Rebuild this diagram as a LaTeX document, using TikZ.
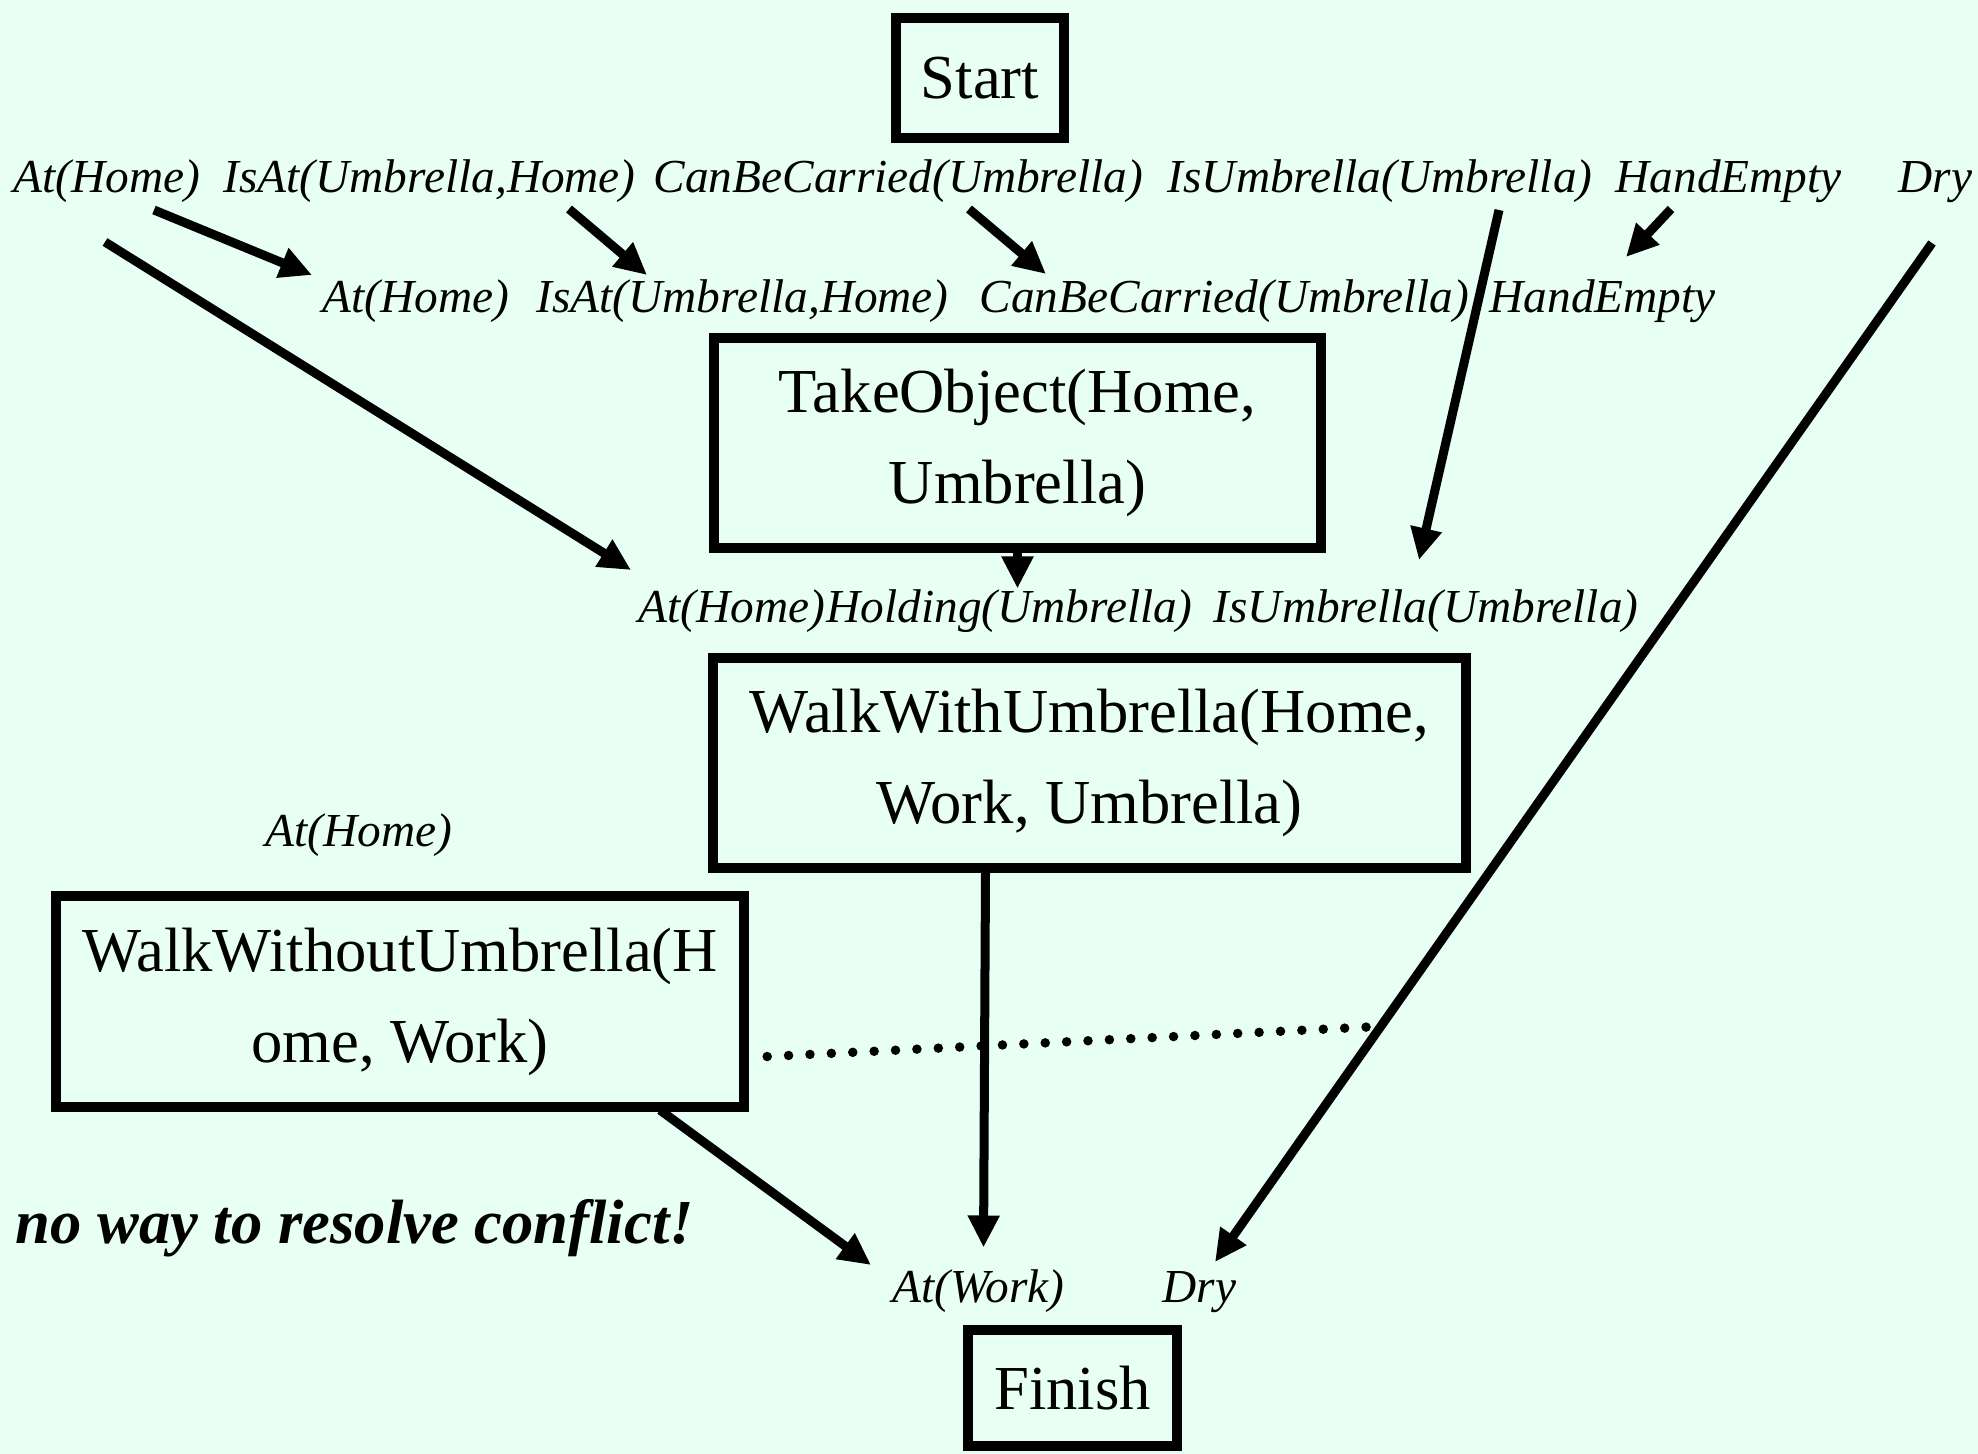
\documentclass[tikz,border=0pt]{standalone}
\usepackage{fontspec}
\setmainfont{Liberation Serif}
\usetikzlibrary{arrows.meta,positioning}
\definecolor{mint}{RGB}{232,255,244}

\begin{document}
\begin{tikzpicture}[x=0.01cm,y=-0.01cm,
  lit/.style={font=\fontsize{13.45}{16}\selectfont\itshape,inner sep=0pt,anchor=base west},
  act/.style={draw,rectangle,line width=0.1cm,inner sep=0pt,align=center,font=\fontsize{17.8}{25.9}\selectfont},
  arr/.style={line width=0.09cm,-{Triangle[length=0.32cm,width=0.30cm]}},
  threat/.style={line width=0.095cm,line cap=round,dash pattern=on 0pt off 0.214cm}]
\fill[mint] (0,0) rectangle (1978,1454);
\useasboundingbox (0,0) rectangle (1978,1454);

% steps
\node[act,minimum width=1.68cm,minimum height=1.20cm] (start) at (980,78) {Start};
\node[act,minimum width=6.07cm,minimum height=2.10cm] (take) at (1017.5,443) {TakeObject(Home,\\Umbrella)};
\node[act,minimum width=7.53cm,minimum height=2.10cm] (walk) at (1089.5,763) {WalkWithUmbrella(Home,\\Work, Umbrella)};
\node[act,minimum width=6.88cm,minimum height=2.11cm] (walkno) at (400,1001.5) {WalkWithoutUmbrella(H\\ome, Work)};
\node[act,minimum width=2.09cm,minimum height=1.16cm] (finish) at (1072.5,1388) {Finish};

% effects of Start
\node[lit] (sAt) at (13,192) {At(Home)};
\node[lit] (sIsAt) at (223,192) {IsAt(Umbrella,Home)};
\node[lit] (sCarry) at (653,192) {CanBeCarried(Umbrella)};
\node[lit] (sIsUmb) at (1167,192) {IsUmbrella(Umbrella)};
\node[lit] (sHand) at (1615,192) {HandEmpty};
\node[lit] (sDry) at (1898,192) {Dry};

% preconditions
\node[lit] (tAt) at (322,312) {At(Home)};
\node[lit] (tIsAt) at (536,312) {IsAt(Umbrella,Home)};
\node[lit] (tCarry) at (979,312) {CanBeCarried(Umbrella)};
\node[lit] (tHand) at (1489,312) {HandEmpty};
\node[lit] (wAt) at (638,622) {At(Home)};
\node[lit] (wHold) at (wAt.base east) {Holding(Umbrella)};
\node[lit] (wIsUmb) at (1213,622) {IsUmbrella(Umbrella)};
\node[lit] (loneAt) at (265,846) {At(Home)};
\node[lit] (fWork) at (892,1302) {At(Work)};
\node[lit] (fDry) at (1162,1302) {Dry};

\node[font=\fontsize{17.8}{20}\selectfont\bfseries\itshape,inner sep=0pt,anchor=base west] (note) at (15,1243) {no way to resolve conflict!};

% causal links
\draw[arr] ([shift={(141,18)}]sAt.base west) -- ([shift={(-10,-37)}]tAt.base west);
\draw[arr] ([shift={(92,50)}]sAt.base west) -- ([shift={(-7,-52)}]wAt.base west);
\draw[arr] ([shift={(346,17)}]sIsAt.base west) -- ([shift={(111,-37)}]tIsAt.base west);
\draw[arr] ([shift={(316,17)}]sCarry.base west) -- ([shift={(67,-38)}]tCarry.base west);
\draw[arr] ([shift={(56,17)}]sHand.base west) -- ([shift={(137,-55)}]tHand.base west);
\draw[arr] ([shift={(332,18)}]sIsUmb.base west) -- ([shift={(206,-62)}]wIsUmb.base west);
\draw[arr] (take.south) -- (take.south |- wHold.north);
\draw[arr] ([shift={(-104,0)}]walk.south) -- ([shift={(5,-21)}]fWork.north);
\draw[arr] ([shift={(260,-2)}]walkno.south) -- ([shift={(-21,-37)}]fWork.base west);
\draw[arr] ([shift={(34,51)}]sDry.base west) -- ([shift={(53,-40)}]fDry.base west);

% threat
\coordinate (clash) at (1368,1027);
\draw[threat] ([shift={(18,55)}]walkno.east) -- (clash);
\end{tikzpicture}
\end{document}
